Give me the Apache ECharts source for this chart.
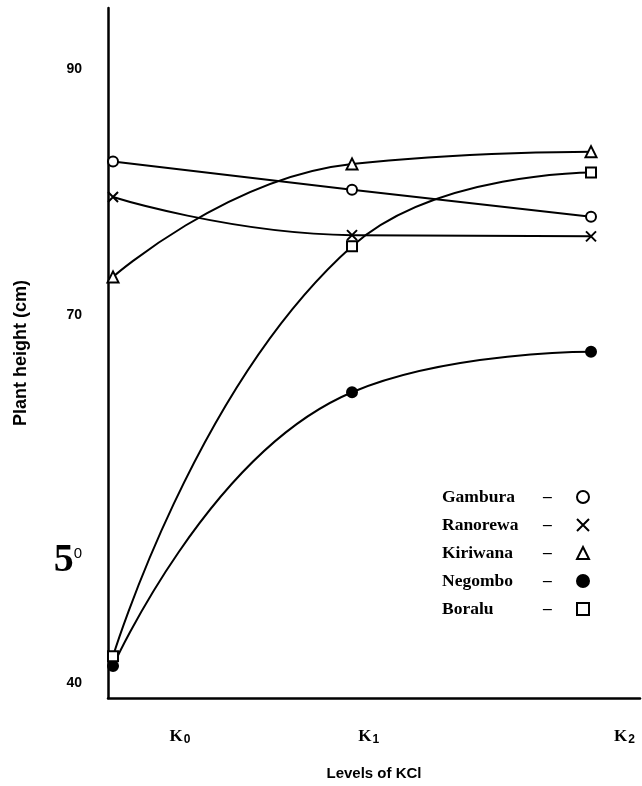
<!DOCTYPE html>
<html>
<head>
<meta charset="utf-8">
<script src="https://cdn.jsdelivr.net/npm/echarts@6/dist/echarts.min.js"></script>
<style>html,body{margin:0;padding:0;background:#fff}#c{width:642px;height:786px}</style>
</head>
<body>
<div id="c"></div>
<script>
// Data (plant height, cm) at levels K0, K1, K2
const levels = ['K0', 'K1', 'K2'];
const levelX = [0, 1, 2];
const gambura  = [82.5, 80.2, 78.0];
const ranorewa = [79.6, 76.5, 76.4];
const kiriwana = [73.1, 82.3, 83.3];
const negombo  = [41.4, 63.7, 67.0];
const boralu   = [42.2, 75.6, 81.6];
const seriesNames = ['Gambura', 'Ranorewa', 'Kiriwana', 'Negombo', 'Boralu'];
const yTickValues = [40, 50, 70, 90];
const xLabelValues = [0.28, 1.07, 2.14];
const xTickLabels = ['{k|K}{s|0}', '{k|K}{s|1}', '{k|K}{s|2}'];

const pairs = arr => arr.map((v, i) => [levelX[i], v]);
const xPath = 'path://M0,0L10,10M10,0L0,10';
const styles = {
  Gambura:  {symbol: 'circle', fill: '#fff', size: 10},
  Ranorewa: {symbol: xPath, fill: 'none', size: 10},
  Kiriwana: {symbol: 'triangle', fill: '#fff', size: 11},
  Negombo:  {symbol: 'circle', fill: '#000', size: 10},
  Boralu:   {symbol: 'rect', fill: '#fff', size: 10}
};
const dataMap = {Gambura: gambura, Ranorewa: ranorewa, Kiriwana: kiriwana, Negombo: negombo, Boralu: boralu};

const chart = echarts.init(document.getElementById('c'));
chart.setOption({
  animation: false,
  backgroundColor: '#fff',
  grid: {left: 108, right: 2, top: 8, bottom: 87},
  xAxis: {
    type: 'value', min: -0.021, max: 2.205,
    splitLine: {show: false},
    axisLine: {onZero: false, lineStyle: {color: '#000', width: 2.5}},
    axisTick: {show: false},
    axisLabel: {
      customValues: xLabelValues,
      margin: 30,
      formatter: v => xTickLabels[Math.round(v)],
      rich: {
        k: {fontFamily: 'Liberation Serif', fontWeight: 'bold', fontSize: 17, color: '#000'},
        s: {fontFamily: 'Liberation Sans', fontWeight: 'bold', fontSize: 12, color: '#000', padding: [6, 0, 0, 1]}
      }
    },
    name: 'Levels of KCl', nameLocation: 'middle', nameGap: 68,
    nameTextStyle: {fontFamily: 'Liberation Sans', fontWeight: 'bold', fontSize: 15, color: '#000'}
  },
  yAxis: {
    type: 'value', min: 38.8, max: 95,
    splitLine: {show: false},
    axisLine: {show: true, onZero: false, lineStyle: {color: '#000', width: 2.5}},
    axisTick: {show: false},
    axisLabel: {
      customValues: yTickValues,
      margin: 26,
      formatter: v => v === 50 ? '{b|5}{s|0}' : '{n|' + v + '}',
      rich: {
        n: {fontFamily: 'Liberation Sans', fontWeight: 'bold', fontSize: 14, color: '#000'},
        b: {fontFamily: 'Liberation Serif', fontWeight: 'bold', fontSize: 40, color: '#000'},
        s: {fontFamily: 'Liberation Sans', fontSize: 15, color: '#000', padding: [0, 0, 14, 0]}
      }
    },
    name: 'Plant height (cm)', nameLocation: 'middle', nameGap: 78, nameRotate: 90,
    nameTextStyle: {fontFamily: 'Liberation Sans', fontWeight: 'bold', fontSize: 18, color: '#000'}
  },
  legend: {
    orient: 'vertical', left: 437, top: 483, itemGap: 10, align: 'right',
    itemWidth: 12, itemHeight: 12,
    formatter: n => '{n|' + n + '}{d|–}',
    textStyle: {
      rich: {
        n: {fontFamily: 'Liberation Serif', fontWeight: 'bold', fontSize: 17.5, color: '#000', width: 101, align: 'left'},
        d: {fontFamily: 'Liberation Serif', fontWeight: 'bold', fontSize: 17.5, color: '#000', width: 29, align: 'left'}
      }
    },
    data: seriesNames.map(n => ({name: n, icon: styles[n].symbol, itemStyle: {color: styles[n].fill, borderColor: '#000', borderWidth: 2}}))
  },
  series: seriesNames.map(n => ({
    name: n, type: 'line', smooth: 0.5,
    data: pairs(dataMap[n]),
    symbol: styles[n].symbol, symbolSize: styles[n].size,
    lineStyle: {color: '#000', width: 2},
    itemStyle: {color: styles[n].fill, borderColor: '#000', borderWidth: 2},
    emphasis: {disabled: true}
  }))
});
</script>
</body>
</html>
